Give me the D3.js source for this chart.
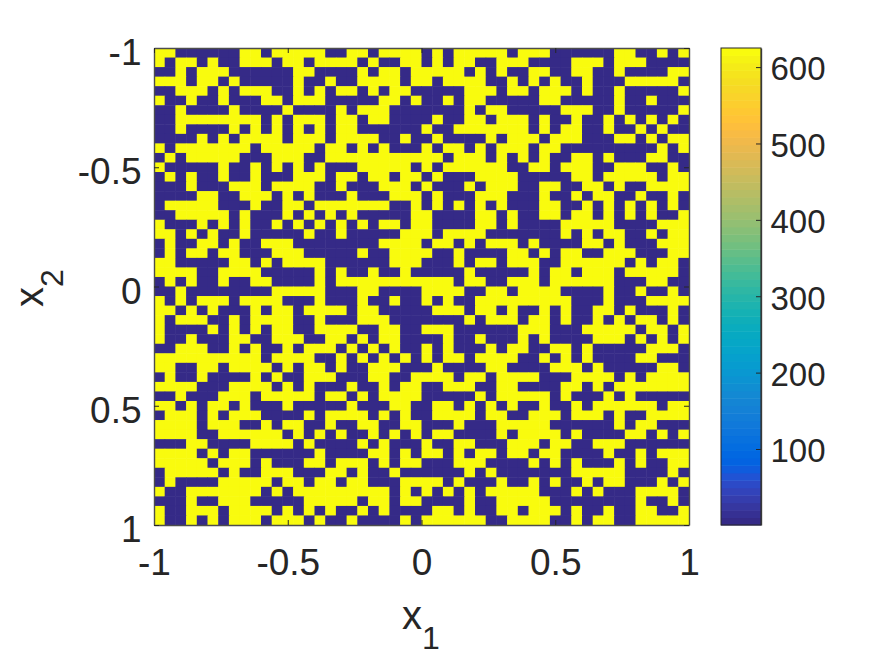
<!DOCTYPE html>
<html>
<head>
<meta charset="utf-8">
<script src="https://d3js.org/d3.v7.min.js"></script>
<style>
body { margin: 0; background: #fff; }
svg { display: block; }
text { font-family: "Liberation Sans", Arial, sans-serif; fill: #262626; }
</style>
</head>
<body>
<div id="wrapper"></div>
<script>
let width = 875;
let height = 656;

// 1 = high cell, 0 = low cell, row by row from x2=-1 down to x2=1
let gridRows = [
"11 000000 11 0 11111 00 11 0 1111 0 1 0 11111 0 111 000000 11 00 1 0 1",
"1 0 11 0 1 00 111 0 11 0 1111 0 1 00 11 0 1 0 11 00 111 0000 111 0 111 0000",
"00 1 0 111 000000 11 0000 1 0 11 0 1 1111 0 1 0 1 00 11 00 11 00 1 0000 11",
"111 0 11 0 1 00000 1 00 1 00 1111 0 1 1 0 1111 00 1 0 1 0 1 00 1 000 11111 0",
"00 111 0 1 0 111 00 1 0 1 0 11 0 1 0 11 0 0000 111 0 11 0 111 0 1 00 1 00000 1",
"1 00 1 00 1 000 11 0 111 00000 11 0 1 00 1 0 11 00000 11 00000 1 00 1 000",
"00 1 0000 1 0000 1 0000 1 0 111 000 0000 1 0 11 00000 111 00 1 00000 1",
"00 11111111 0 1 0 111 0 11 0 11 000 0 1 00 11 0 111 0 1 00 1 00 1 0 1 0 1 0 1 0",
"00 1 0000 1 0 1 0 1 0 1 0 1 0 11 000000 1 00 1111111 0 1 0 11 00 1 00 1 0 1 00",
"0000 1 0 1 0 1111 0 111 0 1111 00 1 0 0 1 0000 1 0 111 0 111 000 11 0 1 0 11",
"1 0 1111111 0 11111 0 11 0 1 0 1 000 1 0 11 0 1 0 111 0 11 000000000 1 0 1",
"0 1 0 11111 000 111 00 111111111 11 0 111 0 1 0 1 0 1 00 11 0 1 000 11 00",
"1 00000 1 00 1 0 1 0 1 0 1 000 11111 0 1 0 111111 00 11 0 111 00 111 00 1 0",
"0 1 0 1 00 1 00 1 000 111 0 11 0 11 0 11 0 1 000 1111 00000 11 0 11111 0 11",
"000 1 000 111 0 1111 00 1 000 111 0 1 000 1 0 111 00 11 00 11 0 1 00 1111",
"0000 11 00 111 0 1 0 1 000 1 000 111 0 1 000 111 000 1 00 1 0 11 00 1 00 1 0",
"0 11111 000 1 00 11 0 1111111 00 1 0 1 0 1 0 1 0 1 000 11 00 1 0 1 0 1 0 1 0 1 0",
"00 11111 0 1 000 1 0 1 0 1 0 1 00000 1 1 0000 11 0 1 00 11 0 11 0 1 0 1 0 1 00 1",
"1 000 1 0 1 0 1 00 1 0 1 0 1 0 1 0 1 0 11 0 1 1 0000 11 0 1 0000 11111 0000 111",
"11 0 1 0 1 00 1 00000 1 00 1 00000 11 1 0 1111 0000000 1 0 1 0 11 00 1 0 11",
"0 1 00 11 0 1 00 111 00000000 1111 0 11 0 1 0 111 0 1 0000 11 0 1 000 111",
"0 1 0 11 0 11 000 111 00000 1 00 111 1 00 1 0000 11 0 1 0 11 00 111 000 11",
"11 00000 11 0 1 0 1111 000000 111 000 1 0 11 0 111 00 111111 0 1 0 11 0",
"1111 00 1111 00000 1 0 1 00 1 00 1 0 0000 1 00000 1 0 11 0 111 0 11111 0",
"0 1 0 1 00 1 00 11 0000 1 0 11111111 111 0 11 00 111 0 111111 000 11 00",
"00 1 00000000 11111 000 11 0000 1111 00 11 0 1111 0000 1 00 1 00 1 0",
"1 0 1 0 111 0 1111 000 1 000 1 00 1 00 1 0 1 00 111111111 000 1 000 1111",
"11 0 1 0 1 000 1 0 11 0 1111 0 11 0000 0 111 0 11 0 1 00 1 0 1 00 11 0 1 000 1 0",
"1 0 111 00 1 0 1111 00 1 000 111 000 0000 1 0 111 0 11 0 1 00 1 0 1 0 11 0 1 0",
"1 0000 1 0 1 0 1 0 11 00 1111 00 11 00 111 000000 111 000 11111 0 11 0 1",
"1 00 1 000 11 00 111 00 11 0 1 0 11 00 00 1 00 1 000 1 0 1 0000 111 0 1 0 1 0 1",
"00 111 00 1 0 1 00 1 0 111 0 1 0 1 0 1 00 1 0 1 000 1 0 11 00 11 0 1 00000 111 0",
"1111111111 0 1111 00 1 0 1 0 1 0 1 0 1 0 11 0 1111 00 1 0 1 0 1 0000 11 000",
"11 00 11 0 1111 0 1 0 11 0 1 00 111 00 0 1 0000 11 0000 111 0 1 00000 11 0",
"0 1 00 1 0000 1 0 1 00 111 000 11 00 1 111 0 11 0 1111 000 1111 0 1 0 1111",
"1111 000 1111 0 1 0 1 000 1 00 1 0 11 00 111 00 11 0000 11 0 1 0 1111111",
"00 1 000 111 0 11111 0 11 0 1 0 1111 00000 1 0 11111 0 1 000 1 0 1 00000",
"11 0 1 0 11 0 1 000 1 00000 1 000 11 0 0 11 0 1 0 1 0 1 00 1 00 1 0 111111 0 11",
"0 111 0 1 0 111 0000 1 0 1111 0 1 0 1 0 0 1111 0 11 00 111 0 111 0 1 00 1111",
"1111 0 111 00 1 0 11 00 1 00 11 00 11 000 1 000 11111 000000 1 0 11 000",
"1111 00 111111 0 1 0 1 0 1 00 1 0 1 0 1 0 11 0000 1 0 1111 0 1 0000 11 0 1 0 1",
"000 11 0000 1111 0 1 0000 1 0 1 000 1 00 11 000 111 0 11 00 111 000000",
"1111 0 1 0 11 000000 1 0000 11 0 1 0 11 0 1 0 11 0 11 0 11 0000 1 00 1 0 111",
"11111 0 111 0 1 000 11 0 111 0 1 0 11 000 111 0000 1 0 1 0 1 000 1 0 1 00 11",
"0 11111 0 1 00 111 000 11 0 1 00 1 00 0000 1 0 1 0000000 11111 0000 1 0",
"0 1 0000 11111 0 11 0 11 0 11 000 11 11 0 1 000 1 00 1 0 1 00 1 0 11 000 1 0 1",
"1 00 1111111 0 1 0 111111111 0 1 0 1 0 1 0 1 0 11111 000 1 0 1 000 1111 0",
"000 1 00 111 00000 11111 0 11 0 11 0000 1 00 11111 00000000 1 00 1 0",
"1 00 111 0 1111 0 1 0 1 0 1 00 1 0 1 000 0 11 0 1 00 11 0 111 0 1 00 1 00 11 00 1",
"1 00 1 0 1 0 111 0 111 0 1 00 1 0000 1 0 111111 00 1111 00 1 0 11 00 11111"
];
let lowValue = 2;
let highValue = 625;
let colorTicks = [100, 200, 300, 400, 500, 600];
let axisTicks = [-1, -0.5, 0, 0.5, 1];

// parula, 64 levels
let parula = [
[0.2081,0.1663,0.5292],[0.2116,0.1898,0.5777],[0.2123,0.2138,0.6270],[0.2081,0.2386,0.6771],
[0.1959,0.2645,0.7279],[0.1707,0.2919,0.7792],[0.1253,0.3242,0.8303],[0.0591,0.3598,0.8683],
[0.0117,0.3875,0.8820],[0.0060,0.4086,0.8828],[0.0165,0.4266,0.8786],[0.0329,0.4430,0.8720],
[0.0498,0.4586,0.8641],[0.0629,0.4737,0.8554],[0.0723,0.4887,0.8467],[0.0779,0.5040,0.8384],
[0.0793,0.5200,0.8312],[0.0749,0.5375,0.8263],[0.0641,0.5570,0.8240],[0.0488,0.5772,0.8228],
[0.0343,0.5966,0.8199],[0.0265,0.6137,0.8135],[0.0239,0.6287,0.8038],[0.0231,0.6418,0.7913],
[0.0228,0.6535,0.7768],[0.0267,0.6642,0.7607],[0.0384,0.6743,0.7436],[0.0590,0.6838,0.7254],
[0.0843,0.6928,0.7062],[0.1133,0.7015,0.6859],[0.1453,0.7098,0.6646],[0.1801,0.7177,0.6424],
[0.2178,0.7250,0.6193],[0.2586,0.7317,0.5954],[0.3022,0.7376,0.5712],[0.3482,0.7424,0.5473],
[0.3953,0.7459,0.5244],[0.4420,0.7481,0.5033],[0.4871,0.7491,0.4840],[0.5300,0.7491,0.4661],
[0.5709,0.7485,0.4494],[0.6099,0.7473,0.4337],[0.6473,0.7456,0.4188],[0.6834,0.7435,0.4044],
[0.7184,0.7411,0.3905],[0.7525,0.7384,0.3768],[0.7858,0.7356,0.3633],[0.8185,0.7327,0.3498],
[0.8507,0.7299,0.3360],[0.8824,0.7274,0.3217],[0.9139,0.7258,0.3063],[0.9450,0.7261,0.2886],
[0.9739,0.7314,0.2666],[0.9938,0.7455,0.2403],[0.9990,0.7653,0.2164],[0.9955,0.7861,0.1967],
[0.9880,0.8066,0.1794],[0.9789,0.8271,0.1633],[0.9697,0.8481,0.1475],[0.9626,0.8705,0.1309],
[0.9589,0.8949,0.1132],[0.9598,0.9218,0.0948],[0.9661,0.9514,0.0755],[0.9763,0.9831,0.0538]
].map(c => d3.rgb(c[0]*255, c[1]*255, c[2]*255).formatHex());

let plot = {left: 154, right: 689, top: 48, bottom: 525};
let bar = {left: 721, right: 761};
let fontSize = 37;
let barFontSize = 33;
let boxColor = "#262626";

let cells = [];
gridRows.forEach((row, r) => {
  row.replace(/\s/g, "").split("").forEach((v, c) => {
    cells.push({r: r, c: c, value: v == "1" ? highValue : lowValue});
  });
});

let color = d3.scaleQuantize().domain([lowValue, highValue]).range(parula);
let cols = d3.range(50);
let xBand = d3.scaleBand().domain(cols).range([plot.left, plot.right]);
let yBand = d3.scaleBand().domain(cols).range([plot.top, plot.bottom]);
let x = d3.scaleLinear().domain([-1, 1]).range([plot.left, plot.right]);
let y = d3.scaleLinear().domain([-1, 1]).range([plot.top, plot.bottom]);

let svg = d3.select("#wrapper").append("svg").attr("width", width).attr("height", height);

svg.append("g").selectAll("rect")
.data(cells)
.enter()
.append("rect")
.attr("x", d => xBand(d.c))
.attr("y", d => yBand(d.r))
.attr("width", xBand.bandwidth() + 0.5)
.attr("height", yBand.bandwidth() + 0.5)
.attr("fill", d => color(d.value));

function styleAxis(g, size) {
  g.selectAll("path").attr("stroke", "#4d4d4d").attr("stroke-width", 1.4);
  g.selectAll("line").attr("stroke", boxColor).attr("stroke-width", 1);
  g.selectAll("text").style("font-size", size + "px").attr("fill", boxColor);
}

let fmt = d => d3.format("")(d).replace("\u2212", "-");

svg.append("g").attr("transform", `translate(0,${plot.bottom})`)
.call(d3.axisBottom(x).tickValues(axisTicks).tickFormat(fmt).tickSizeInner(-5).tickSizeOuter(0).tickPadding(24))
.call(styleAxis, fontSize);
svg.append("g").attr("transform", `translate(${plot.left},0)`)
.call(d3.axisLeft(y).tickValues(axisTicks).tickFormat(fmt).tickSizeInner(-5).tickSizeOuter(0).tickPadding(12.5))
.call(styleAxis, fontSize)
.selectAll("text").attr("dy", "0.446em");
svg.append("g").attr("transform", `translate(0,${plot.top})`)
.call(d3.axisTop(x).tickValues(axisTicks).tickFormat("").tickSizeInner(-5).tickSizeOuter(0))
.call(styleAxis, fontSize);
svg.append("g").attr("transform", `translate(${plot.right},0)`)
.call(d3.axisRight(y).tickValues(axisTicks).tickFormat("").tickSizeInner(-5).tickSizeOuter(0))
.call(styleAxis, fontSize);

// colorbar
let levelBand = d3.scaleBand().domain(d3.range(parula.length)).range([plot.bottom, plot.top]);
svg.append("g").selectAll("rect")
.data(parula)
.enter()
.append("rect")
.attr("x", bar.left)
.attr("width", bar.right - bar.left)
.attr("y", (d, i) => levelBand(i))
.attr("height", levelBand.bandwidth() + 0.5)
.attr("fill", d => d);

let barScale = d3.scaleLinear().domain([0.5, highValue]).range([plot.bottom, plot.top]);
svg.append("g").attr("transform", `translate(${bar.right},0)`)
.call(d3.axisRight(barScale).tickValues(colorTicks).tickSizeInner(-5).tickSizeOuter(0).tickPadding(9.5))
.call(styleAxis, barFontSize)
.selectAll("text").attr("dy", "0.39em");
svg.append("rect")
.attr("x", bar.left).attr("y", plot.top)
.attr("width", bar.right - bar.left).attr("height", plot.bottom - plot.top)
.attr("fill", "none").attr("stroke", boxColor).attr("stroke-width", 1);

// axis labels
function axisLabel(g, sub) {
  let t = g.append("text").style("font-size", "40px");
  t.append("tspan").text("x");
  t.append("tspan").attr("dy", 20).style("font-size", "32px").text(sub);
}
axisLabel(svg.append("g").attr("transform", "translate(402,629)"), "1");
axisLabel(svg.append("g").attr("transform", "translate(42.5,307) rotate(-90)"), "2");
</script>
</body>
</html>
